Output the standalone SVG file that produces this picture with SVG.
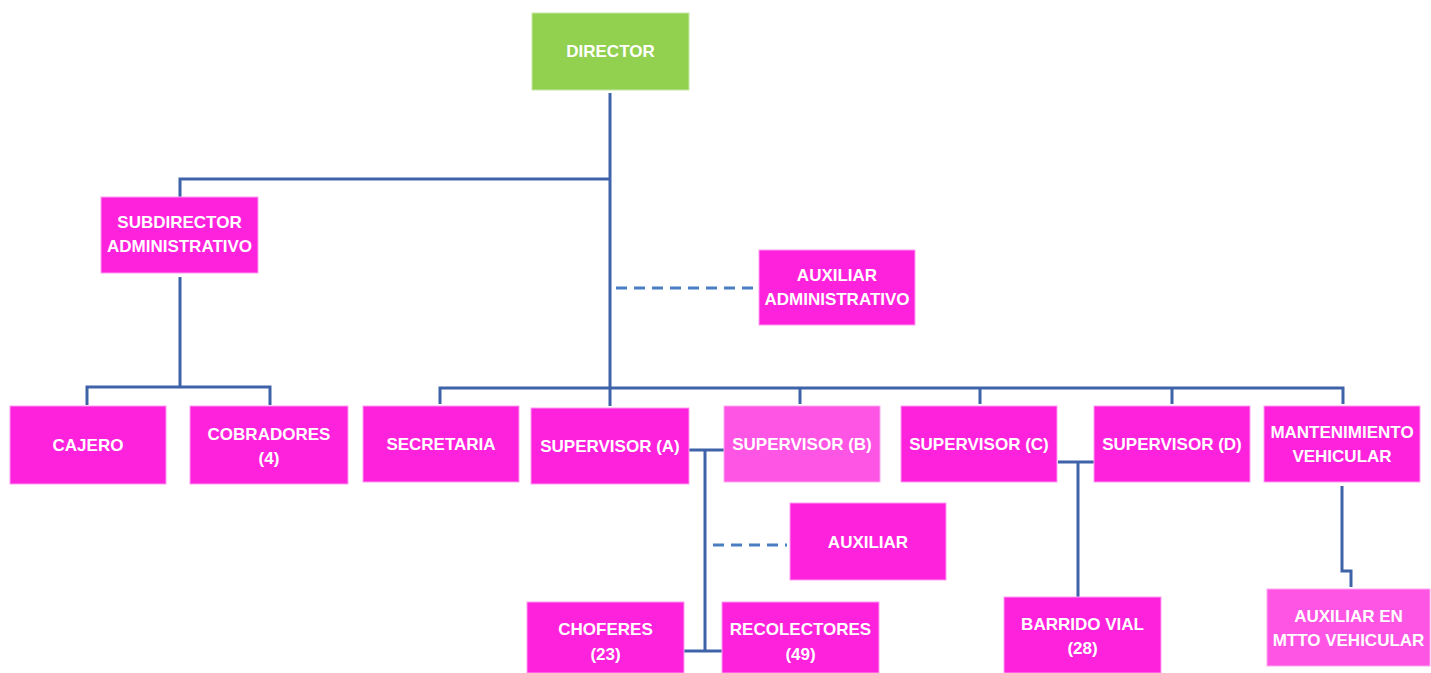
<svg xmlns="http://www.w3.org/2000/svg" width="1431" height="673" viewBox="0 0 1431 673">
<style>
.n{fill:#FF22DD;stroke:#FF9CEF;stroke-width:1}
.l{fill:#FF55E4;stroke:#FFA8F0;stroke-width:1}
.g{fill:#92D050;stroke:#C6E8A6;stroke-width:1}
text{font-family:"Liberation Sans",Arial,sans-serif;font-weight:bold;font-size:17px;fill:#FFFFFF;text-anchor:middle}
.c{fill:none;stroke:#3E63A8;stroke-width:3}
.d{fill:none;stroke:#4A7EC2;stroke-width:3;stroke-dasharray:11 7}
</style>
<rect width="1431" height="673" fill="#FFFFFF"/>
<g id="connectors">
<path class="c" d="M610 93V388M180 197V179H610M180 277V387M87 405V387H270V405M440 404V388H1343V404M610 388V406M800 388V404M980 388V404M1172 388V404"/>
<path class="c" d="M689 450H729M705 450V651M684 651H726"/>
<path class="c" d="M1058 462H1100M1078 462V598"/>
<path class="c" d="M1342 486V571H1351V587"/>
<path class="d" d="M616 288H757"/>
<path class="d" d="M713 545H787"/>
</g>
<g id="director"><rect class="g" x="532" y="13" width="157" height="77"/><text x="610.5" y="57">DIRECTOR</text></g>
<g id="subdirector"><rect class="n" x="101" y="197" width="157" height="76"/><text x="179.5" y="228">SUBDIRECTOR</text><text x="179.5" y="252">ADMINISTRATIVO</text></g>
<g id="auxiliar-administrativo"><rect class="n" x="759" y="250" width="156" height="75"/><text x="837" y="281">AUXILIAR</text><text x="837" y="305">ADMINISTRATIVO</text></g>
<g id="cajero"><rect class="n" x="10" y="406" width="156" height="78"/><text x="88" y="451">CAJERO</text></g>
<g id="cobradores"><rect class="n" x="190" y="406" width="158" height="78"/><text x="269" y="440">COBRADORES</text><text x="269" y="464">(4)</text></g>
<g id="secretaria"><rect class="n" x="363" y="406" width="156" height="76"/><text x="441" y="450">SECRETARIA</text></g>
<g id="supervisor-a"><rect class="n" x="531" y="408" width="158" height="76"/><text x="610" y="452">SUPERVISOR (A)</text></g>
<g id="supervisor-b"><rect class="l" x="724" y="406" width="156" height="76"/><text x="802" y="450">SUPERVISOR (B)</text></g>
<g id="supervisor-c"><rect class="n" x="901" y="406" width="156" height="76"/><text x="979" y="450">SUPERVISOR (C)</text></g>
<g id="supervisor-d"><rect class="n" x="1094" y="406" width="156" height="76"/><text x="1172" y="450">SUPERVISOR (D)</text></g>
<g id="mantenimiento"><rect class="n" x="1264" y="406" width="156" height="76"/><text x="1342" y="438">MANTENIMIENTO</text><text x="1342" y="462">VEHICULAR</text></g>
<g id="auxiliar"><rect class="n" x="790" y="503" width="156" height="77"/><text x="868" y="548">AUXILIAR</text></g>
<g id="choferes"><rect class="n" x="527" y="602" width="157" height="71"/><text x="605.5" y="635">CHOFERES</text><text x="605.5" y="660">(23)</text></g>
<g id="recolectores"><rect class="n" x="722" y="602" width="157" height="71"/><text x="800.5" y="635">RECOLECTORES</text><text x="800.5" y="660">(49)</text></g>
<g id="barrido-vial"><rect class="n" x="1004" y="597" width="157" height="76"/><text x="1082.5" y="630">BARRIDO VIAL</text><text x="1082.5" y="654">(28)</text></g>
<g id="auxiliar-mtto"><rect class="l" x="1267" y="589" width="163" height="77"/><text x="1348.5" y="622">AUXILIAR EN</text><text x="1348.5" y="646">MTTO VEHICULAR</text></g>
</svg>
